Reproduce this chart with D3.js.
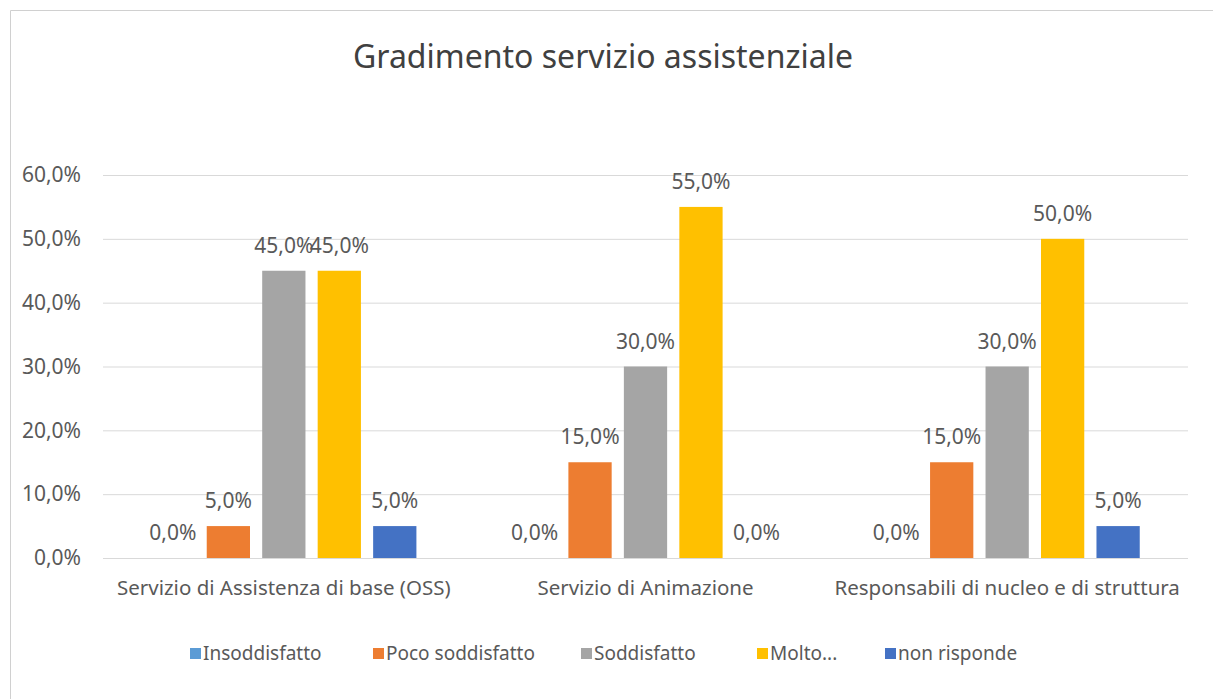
<!DOCTYPE html>
<meta charset="utf-8">
<head>
  <meta charset="utf-8">
  <title>Gradimento servizio assistenziale</title>
  <style>
    body { margin: 0; background: #fff; }
    text { font-family: "Noto Sans", "Open Sans", sans-serif; }
  </style>
</head>
<body>
<script src="https://cdn.jsdelivr.net/npm/d3@7"></script>
<script>

// data
var categories = ["Servizio di Assistenza di base (OSS)", "Servizio di Animazione", "Responsabili di nucleo e di struttura"];
var series = ["Insoddisfatto", "Poco soddisfatto", "Soddisfatto", "Molto...", "non risponde"];
var insoddisfatto = [0, 0, 0];
var pocoSoddisfatto = [5, 15, 15];
var soddisfatto = [45, 30, 30];
var moltoSoddisfatto = [45, 55, 50];
var nonRisponde = [5, 0, 5];
var yTicks = [0, 10, 20, 30, 40, 50, 60];
var colors = ["#5B9BD5", "#ED7D31", "#A5A5A5", "#FFC000", "#4472C4"];

var values = [insoddisfatto, pocoSoddisfatto, soddisfatto, moltoSoddisfatto, nonRisponde];

var W = 1213, H = 699;
var margin = {top: 175, right: 25, bottom: 141, left: 103},
    width = W - margin.left - margin.right,
    height = H - margin.top - margin.bottom;

var fmt = function(v) { return v.toFixed(1).replace(".", ",") + "%"; };

var svg = d3.select("body").append("svg")
    .attr("width", W)
    .attr("height", H);

// chart frame
svg.append("path")
    .attr("d", "M10.5," + H + "V10.5H" + W)
    .attr("fill", "none")
    .attr("stroke", "#d0d0d0");

svg.append("text")
    .attr("x", 603)
    .attr("y", 68)
    .attr("text-anchor", "middle")
    .style("font-size", "32px")
    .style("fill", "#404040")
    .text("Gradimento servizio assistenziale");

var g = svg.append("g")
    .attr("transform", "translate(" + margin.left + "," + margin.top + ")");

var x0 = d3.scaleBand()
    .domain(categories)
    .range([0, width])
    .padding(0);

var x1 = d3.scaleBand()
    .domain(series)
    .range([0, x0.bandwidth()])
    .paddingInner(0.22)
    .paddingOuter(0.87);

var y = d3.scaleLinear()
    .domain([0, 60])
    .range([height, 0]);

// gridlines + y labels
var yAxis = g.append("g")
    .call(d3.axisLeft(y).tickValues(yTicks).tickSize(-width).tickFormat(fmt).tickPadding(22));
yAxis.select(".domain").remove();
yAxis.selectAll(".tick line").attr("stroke", "#d9d9d9");
yAxis.selectAll(".tick text")
    .style("font-size", "21px")
    .style("fill", "#595959")
    .style("font-family", "Noto Sans");

// bars
var groups = g.selectAll(".grp")
    .data(categories)
    .enter().append("g")
    .attr("class", "grp")
    .attr("transform", function(d) { return "translate(" + x0(d) + ",0)"; });

groups.each(function(cat, ci) {
  var sel = d3.select(this);
  var rows = series.map(function(s, si) { return {s: s, v: values[si][ci], i: si}; });

  sel.selectAll("rect")
      .data(rows)
      .enter().append("rect")
      .attr("x", function(d) { return x1(d.s); })
      .attr("width", x1.bandwidth())
      .attr("y", function(d) { return y(d.v); })
      .attr("height", function(d) { return height - y(d.v); })
      .attr("fill", function(d) { return colors[d.i]; });

  sel.selectAll(".lbl")
      .data(rows)
      .enter().append("text")
      .attr("class", "lbl")
      .attr("x", function(d) { return x1(d.s) + x1.bandwidth() / 2; })
      .attr("y", function(d) { return y(d.v) - 18; })
      .attr("text-anchor", "middle")
      .style("font-size", "21px")
      .style("fill", "#595959")
      .text(function(d) { return fmt(d.v); });
});

// x axis labels
var xAxis = g.append("g")
    .attr("transform", "translate(0," + height + ")")
    .call(d3.axisBottom(x0).tickSize(0).tickPadding(22));
xAxis.select(".domain").remove();
xAxis.selectAll(".tick text")
    .style("font-size", "20.5px")
    .style("fill", "#595959")
    .style("font-family", "Noto Sans");

// legend
var legendX = [190, 373, 581, 757, 885];
var legend = svg.selectAll(".leg")
    .data(series)
    .enter().append("g")
    .attr("class", "leg")
    .attr("transform", function(d, i) { return "translate(" + legendX[i] + ",648)"; });
legend.append("rect")
    .attr("width", 11)
    .attr("height", 11)
    .attr("fill", function(d, i) { return colors[i]; });
legend.append("text")
    .attr("x", 13)
    .attr("y", 12)
    .style("font-size", "19px")
    .style("fill", "#595959")
    .text(function(d) { return d; });

</script>
</body>
